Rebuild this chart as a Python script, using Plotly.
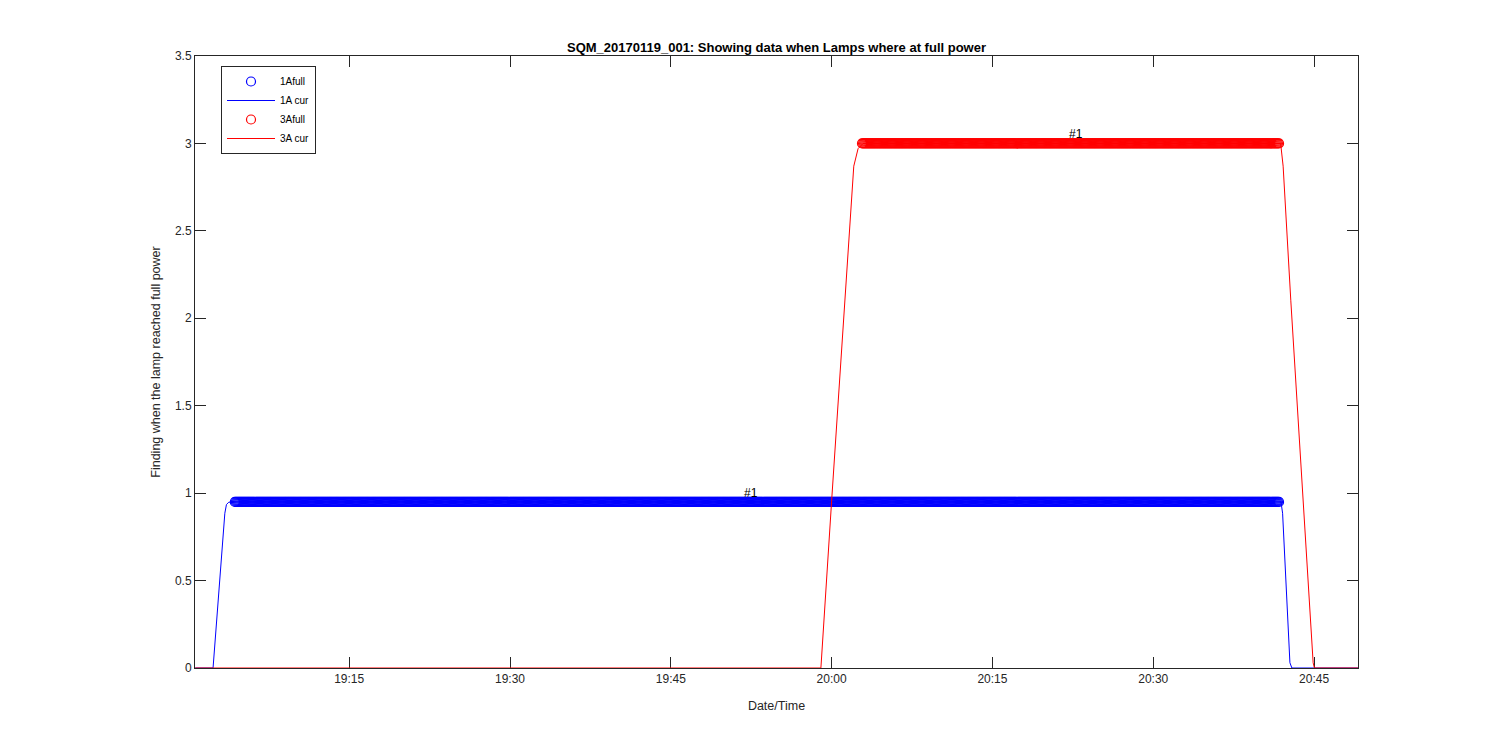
import pandas as pd
import plotly.graph_objects as go

DAY = "2017-01-19 "

# 1A current trace (time, value)
a1_times = ["19:00:38", "19:02:18", "19:03:24", "19:03:33", "19:03:46", "19:04:09",
            "20:41:55", "20:42:04", "20:42:45", "20:42:56", "20:49:06"]
a1_values = [0.0, 0.0, 0.885, 0.935, 0.948, 0.95,
             0.95, 0.885, 0.03, 0.0, 0.0]

# 3A current trace (time, value)
a3_times = ["19:00:38", "19:59:00", "20:00:00", "20:01:51", "20:02:04", "20:02:28", "20:02:56",
            "20:41:53", "20:42:07", "20:42:50", "20:43:50", "20:44:55", "20:45:02", "20:49:06"]
a3_values = [0.0, 0.0, 0.955, 2.68, 2.87, 2.97, 3.0,
             3.0, 2.87, 2.10, 1.08, 0.03, 0.0, 0.0]

# "full power" samples: start, end, sampling period, level
a1_full_start, a1_full_end, a1_full_level = "19:04:20", "20:41:49", 0.95
a3_full_start, a3_full_end, a3_full_level = "20:02:50", "20:41:49", 3.0
sample_period = "6s"

# "#1" labels
label_text = ["#1", "#1"]
label_times = ["19:52:30", "20:22:45"]
label_values = [0.95, 3.0]

x_range = ["19:00:37", "20:49:06"]
y_ticks = [0, 0.5, 1, 1.5, 2, 2.5, 3, 3.5]

def ts(lst):
    return pd.to_datetime([DAY + t for t in lst], format="%Y-%m-%d %H:%M:%S")

a1_full_t = pd.date_range(DAY + a1_full_start, DAY + a1_full_end, freq=sample_period)
a3_full_t = pd.date_range(DAY + a3_full_start, DAY + a3_full_end, freq=sample_period)

FONT = "Liberation Sans, Arial, sans-serif"
TXT = "#262626"
BLUE = "#0000ff"
RED = "#ff0000"

fig = go.Figure()
fig.add_trace(go.Scatter(x=a1_full_t, y=[a1_full_level] * len(a1_full_t), mode="markers",
                         name="1Afull",
                         marker=dict(symbol="circle-open", size=9, color=BLUE, line=dict(width=1.2, color=BLUE))))
fig.add_trace(go.Scatter(x=ts(a1_times), y=a1_values, mode="lines", name="1A cur",
                         line=dict(color=BLUE, width=1)))
fig.add_trace(go.Scatter(x=a3_full_t, y=[a3_full_level] * len(a3_full_t), mode="markers",
                         name="3Afull",
                         marker=dict(symbol="circle-open", size=9, color=RED, line=dict(width=1.2, color=RED))))
fig.add_trace(go.Scatter(x=ts(a3_times), y=a3_values, mode="lines", name="3A cur",
                         line=dict(color=RED, width=1)))

for t, v, s in zip(ts(label_times), label_values, label_text):
    fig.add_annotation(x=t, y=v, text=s, showarrow=False, yanchor="bottom", yshift=0,
                       font=dict(family=FONT, size=12, color="black"))

# page offset of 8px (body margin) is compensated in the margins
fig.update_layout(
    width=1500, height=750,
    paper_bgcolor="white", plot_bgcolor="white",
    margin=dict(l=187, r=150, t=48, b=90),
    font=dict(family=FONT, size=12, color=TXT),
    title=dict(text="<b>SQM_20170119_001: Showing data when Lamps where at full power</b>",
               x=(187 + 1350) / 2 / 1500, xanchor="center", y=1 - 39 / 750, yanchor="middle",
               font=dict(family=FONT, size=13, color="black")),
    showlegend=True,
    legend=dict(x=(221 - 195) / (1358 - 195), y=1 - (66 - 56) / 612, xanchor="left", yanchor="top",
                bgcolor="white", bordercolor="#262626", borderwidth=1,
                font=dict(family=FONT, size=10, color="black"),
                itemwidth=48, tracegroupgap=0),
)
fig.update_xaxes(
    type="date", range=list(ts(x_range)),
    tickformat="%H:%M", dtick=15 * 60 * 1000, tick0=DAY + "19:00:00",
    ticks="inside", ticklen=11, tickcolor=TXT, tickwidth=1,
    tickfont=dict(family=FONT, size=12, color=TXT),
    showline=True, linecolor=TXT, linewidth=1, mirror="ticks",
    showgrid=False, zeroline=False, layer="below traces",
    title=dict(text="Date/Time", standoff=15, font=dict(family=FONT, size=12.5, color=TXT)),
)
fig.update_yaxes(
    range=[0, 3.5], tickvals=y_ticks, ticktext=[f"{v:g}" for v in y_ticks],
    ticks="inside", ticklen=11, tickcolor=TXT, tickwidth=1,
    tickfont=dict(family=FONT, size=12, color=TXT),
    showline=True, linecolor=TXT, linewidth=1, mirror="ticks",
    showgrid=False, zeroline=False, layer="below traces",
    title=dict(text="Finding when the lamp reached full power", standoff=11,
               font=dict(family=FONT, size=12.5, color=TXT)),
)

fig.write_html("out.html")
